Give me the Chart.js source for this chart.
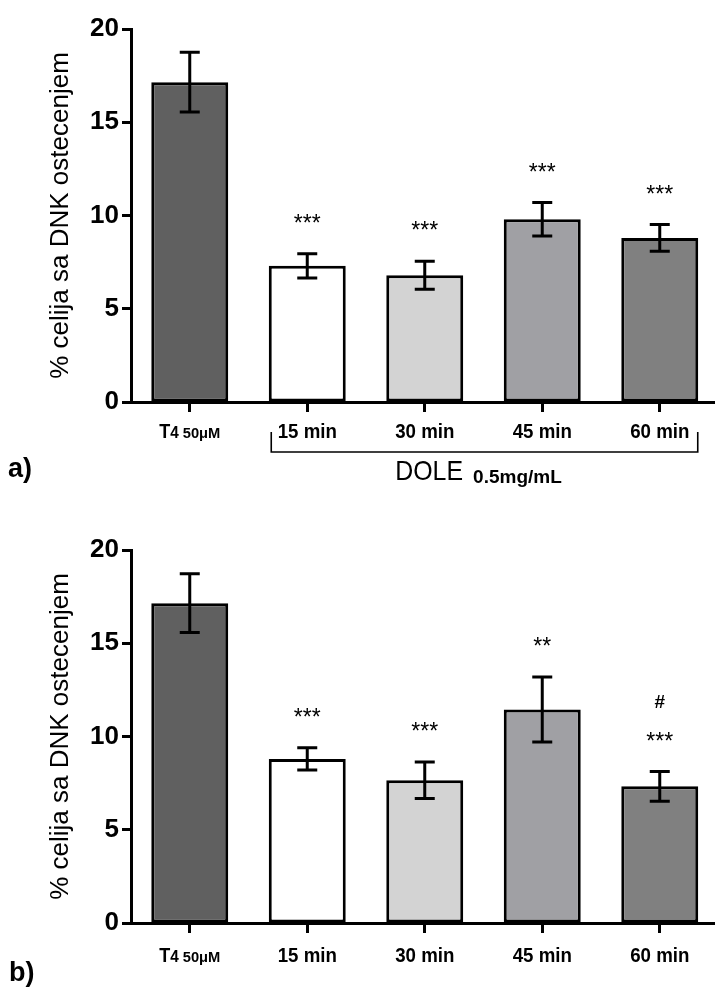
<!DOCTYPE html>
<html><head><meta charset="utf-8">
<script src="https://cdn.jsdelivr.net/npm/chart.js@4.4.1/dist/chart.umd.min.js"></script>
<style>
html,body{margin:0;padding:0;background:#fff;overflow:hidden;width:715px;height:987px;position:relative;}
#wrapA{position:absolute;left:0;top:0;width:720px;height:521px;}
#wrapB{position:absolute;left:0;top:521px;width:720px;height:466px;}
canvas{display:block;}
</style></head><body>
<div id="wrapA"><canvas id="chartA" width="720" height="521"></canvas></div>
<div id="wrapB"><canvas id="chartB" width="720" height="466"></canvas></div>
<script>
// ---- data ----
const categories = ['T4 50μM', '15 min', '30 min', '45 min', '60 min'];
const yTicks = [0, 5, 10, 15, 20];
const valuesA = [17.15, 7.3, 6.8, 9.8, 8.8];
const errorsA = [1.6, 0.65, 0.75, 0.9, 0.72];
const sigA = ['', '***', '***', '***', '***'];
const valuesB = [17.15, 8.8, 7.65, 11.45, 7.33];
const errorsB = [1.57, 0.6, 0.98, 1.74, 0.8];
const sigB = ['', '***', '***', '**', '***'];
const hashB = ['', '', '', '', '#'];
const yTitle = '% celija sa DNK ostecenjem';
const groupLabel = 'DOLE';
const groupSub = '0.5mg/mL';
const panelA = 'a)';
const panelB = 'b)';

// ---- styles ----
const FAM = "'Liberation Sans', Arial, sans-serif";
const barColors = ['#606060', '#ffffff', '#d3d3d3', '#a0a0a4', '#808080'];

function drawScaled(ctx, text, x, y, font, sx, align) {
  ctx.save();
  ctx.font = font;
  ctx.textBaseline = 'alphabetic';
  ctx.textAlign = 'left';
  const w = ctx.measureText(text).width * sx;
  const left = align === 'center' ? x - w / 2 : (align === 'right' ? x - w : x);
  ctx.translate(left, y);
  ctx.scale(sx, 1);
  ctx.fillStyle = '#000';
  ctx.fillText(text, 0, 0);
  ctx.restore();
  return w;
}
function measure(ctx, text, font, sx) {
  ctx.save(); ctx.font = font; const w = ctx.measureText(text).width * sx; ctx.restore(); return w;
}

function drawXLabel(ctx, label, cx, baseline) {
  if (label.indexOf('μM') >= 0) {
    const parts = label.split(' ');
    const p1 = parts[0].charAt(0), p2 = parts[0].slice(1), p3 = parts[1];
    const f1 = 'bold 20px ' + FAM, f2 = 'bold 17px ' + FAM, f3 = 'bold 14px ' + FAM;
    const w1 = measure(ctx, p1, f1, 0.9), w2 = measure(ctx, p2, f2, 0.9), w3 = measure(ctx, p3, f3, 1.05);
    const gap = 4;
    let x = cx - (w1 + w2 + gap + w3) / 2;
    drawScaled(ctx, p1, x, baseline, f1, 0.9, 'left'); x += w1;
    drawScaled(ctx, p2, x, baseline, f2, 0.9, 'left'); x += w2 + gap;
    drawScaled(ctx, p3, x, baseline, f3, 1.05, 'left');
  } else {
    drawScaled(ctx, label, cx, baseline, 'bold 21px ' + FAM, 0.89, 'center');
  }
}

function annotPlugin(values, errors, sig, hash, labelOffset, extra) {
  return {
    id: 'annot',
    afterDatasetsDraw(chart) {
      const ctx = chart.ctx;
      const ys = chart.scales.y;
      const meta = chart.getDatasetMeta(0);
      ctx.save();
      ctx.strokeStyle = '#000';
      ctx.lineWidth = 3;
      ctx.lineCap = 'butt';
      values.forEach((v, i) => {
        const x = meta.data[i].x;
        const yt = ys.getPixelForValue(v + errors[i]);
        const yb = ys.getPixelForValue(v - errors[i]);
        ctx.beginPath();
        ctx.moveTo(x, yt); ctx.lineTo(x, yb);
        ctx.moveTo(x - 10, yt); ctx.lineTo(x + 10, yt);
        ctx.moveTo(x - 10, yb); ctx.lineTo(x + 10, yb);
        ctx.stroke();
        if (sig[i]) {
          const c = yt - 36;
          drawScaled(ctx, sig[i], x, c + 0.575 * 23, '23px ' + FAM, 1, 'center');
        }
        if (hash && hash[i]) {
          const c = yt - 70;
          drawScaled(ctx, hash[i], x, c + 7, 'bold 19px ' + FAM, 1, 'center');
        }
      });
      ctx.restore();
    },
    afterDraw(chart) {
      const ctx = chart.ctx;
      const xs = chart.scales.x;
      categories.forEach((lab, i) => {
        drawXLabel(ctx, lab, xs.getPixelForValue(i), chart.chartArea.bottom + labelOffset);
      });
      extra(chart, ctx);
    }
  };
}

function makeChart(id, H, values, errors, sig, hash, labelOffset, extra) {
  return new Chart(document.getElementById(id), {
    type: 'bar',
    data: {
      labels: categories,
      datasets: [{
        data: values,
        backgroundColor: barColors,
        borderColor: '#000',
        borderWidth: 3,
        borderSkipped: false,
        barPercentage: 0.655,
        categoryPercentage: 1
      }]
    },
    options: {
      responsive: false,
      animation: false,
      devicePixelRatio: 1,
      layout: { padding: { left: 0, top: 29, right: 1.5, bottom: 0 } },
      plugins: { legend: { display: false }, tooltip: { enabled: false } },
      scales: {
        x: {
          type: 'category',
          offset: true,
          grid: { display: true, offset: false, drawOnChartArea: false, drawTicks: true, tickLength: 10, tickWidth: 3, tickColor: '#000' },
          border: { display: true, color: '#000', width: 3 },
          ticks: { display: false },
          afterFit: (s) => { s.height = H - 402; }
        },
        y: {
          min: 0, max: 20,
          afterBuildTicks: (s) => { s.ticks = yTicks.map(v => ({ value: v })); },
          grid: { display: true, drawOnChartArea: false, drawTicks: true, tickLength: 9, tickWidth: 3, tickColor: '#000' },
          border: { display: true, color: '#000', width: 3 },
          ticks: { font: { family: FAM, size: 26, weight: 'bold' }, color: '#000', padding: 3 },
          title: { display: true, text: yTitle, color: '#000', font: { family: FAM, size: 26, weight: 'normal' }, padding: { top: 45, bottom: 0 } },
          afterFit: (s) => { s.width = 131; }
        }
      }
    },
    plugins: [annotPlugin(values, errors, sig, hash, labelOffset, extra)]
  });
}

makeChart('chartA', 521, valuesA, errorsA, sigA, null, 36, (chart, ctx) => {
  const xs = chart.scales.x;
  const l = xs.getPixelForValue(1) - 36, r = xs.getPixelForValue(4) + 38;
  const top = chart.chartArea.bottom + 30, bot = chart.chartArea.bottom + 50;
  ctx.save();
  ctx.strokeStyle = '#000'; ctx.lineWidth = 1.6;
  ctx.beginPath();
  ctx.moveTo(l, top); ctx.lineTo(l, bot); ctx.lineTo(r, bot); ctx.lineTo(r, top);
  ctx.stroke();
  ctx.restore();
  const mid = (l + r) / 2;
  const f1 = '28px ' + FAM, f2 = 'bold 19px ' + FAM;
  const w1 = measure(ctx, groupLabel, f1, 0.89), w2 = measure(ctx, groupSub, f2, 1);
  let x = mid - 6 - (w1 + 10 + w2) / 2;
  drawScaled(ctx, groupLabel, x, chart.chartArea.bottom + 78, f1, 0.89, 'left');
  drawScaled(ctx, groupSub, x + w1 + 10, chart.chartArea.bottom + 81, f2, 1, 'left');
  drawScaled(ctx, panelA, 8, 477, 'bold 27px ' + FAM, 1, 'left');
});

makeChart('chartB', 466, valuesB, errorsB, sigB, hashB, 39, (chart, ctx) => {
  drawScaled(ctx, panelB, 9, 460, 'bold 27px ' + FAM, 1, 'left');
});
</script>
</body></html>
